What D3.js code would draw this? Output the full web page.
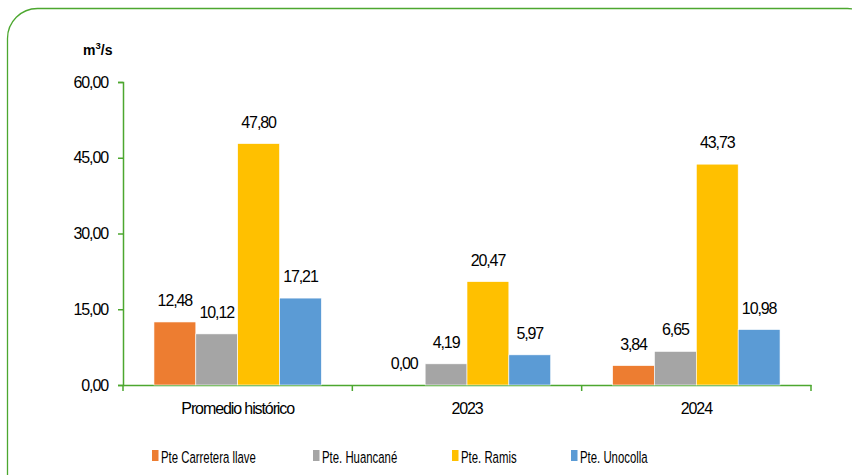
<!DOCTYPE html>
<html><head><meta charset="utf-8">
<script src="https://cdn.jsdelivr.net/npm/d3@7"></script>
<style>body{margin:0;background:#fff}svg{display:block}text{font-family:"Liberation Sans",Arial,sans-serif;fill:#000}</style>
</head><body><svg id="c" width="852" height="475"></svg>
<script>
const categories = ["Promedio histórico", "2023", "2024"];
const seriesNames = ["Pte Carretera llave", "Pte. Huancané", "Pte. Ramis", "Pte. Unocolla"];
const carretera = [12.48, 0.00, 3.84];
const huancane = [10.12, 4.19, 6.65];
const ramis = [47.80, 20.47, 43.73];
const unocolla = [17.21, 5.97, 10.98];
const yTicks = [0, 15, 30, 45, 60];
const colors = ["#ED7D31", "#A5A5A5", "#FFC000", "#5B9BD5"];
const values = [carretera, huancane, ramis, unocolla];

const svg = d3.select("#c");
const green = "#4CA72F";
const FONT = '"Liberation Sans",Arial,sans-serif';
const LS = "-1.1";
const fmt = v => v.toFixed(2).replace(".", ",");

// border
svg.append("rect").attr("x", 7.5).attr("y", 8.5).attr("width", 870).attr("height", 520)
  .attr("rx", 30).attr("ry", 30).attr("fill", "none").attr("stroke", green).attr("stroke-width", 1.3);

const x0 = d3.scaleBand().domain(categories).range([123, 811]).paddingInner(0).paddingOuter(0);
const x1 = d3.scaleBand().domain(seriesNames).range([0, x0.bandwidth()]).paddingInner(0).paddingOuter(0.74);
const y = d3.scaleLinear().domain([0, 60]).range([385, 82]);

// y axis
const ya = svg.append("g").attr("transform", "translate(123,0)")
  .call(d3.axisLeft(y).tickValues(yTicks).tickFormat(fmt).tickSize(5).tickPadding(10));
ya.select(".domain").attr("stroke", green).attr("stroke-width", 1.5);
ya.selectAll(".tick line").attr("stroke", green).attr("stroke-width", 1.5);
ya.selectAll("text").attr("font-size", 16).attr("font-family", FONT).attr("letter-spacing", LS).attr("fill", "#000");

// x axis
const xa = svg.append("g").attr("transform", "translate(0,385)")
  .call(d3.axisBottom(x0).tickSize(0).tickPadding(18));
xa.select(".domain").attr("stroke", green).attr("stroke-width", 1.5);
xa.selectAll("text").attr("font-size", 16).attr("font-family", FONT).attr("letter-spacing", LS).attr("fill", "#000");
// category boundary ticks
const bounds = [x0(categories[0])].concat(categories.map(c => x0(c) + x0.bandwidth()));
svg.append("g").selectAll("line").data(bounds).join("line")
  .attr("x1", d => d).attr("x2", d => d).attr("y1", 385).attr("y2", 391)
  .attr("stroke", green).attr("stroke-width", 1.5);

// bars
const g = svg.append("g");
seriesNames.forEach((s, si) => {
  categories.forEach((c, ci) => {
    const v = values[si][ci];
    const bx = x0(c) + x1(s);
    if (v > 0) {
      g.append("rect").attr("x", bx).attr("y", y(v)).attr("width", x1.bandwidth()).attr("height", y(0) - y(v))
        .attr("fill", colors[si]).attr("stroke", "#fff").attr("stroke-width", 0.6);
    }
    g.append("text").attr("x", bx + x1.bandwidth() / 2).attr("y", y(v) - 16)
      .attr("text-anchor", "middle").attr("font-size", 16).attr("letter-spacing", LS).text(fmt(v));
  });
});

// unit label
svg.append("text").attr("x", 83).attr("y", 55).attr("font-size", 14).attr("font-weight", "bold")
  .html('m<tspan dy="-6" font-size="9.5">3</tspan><tspan dy="6">/s</tspan>');

// legend
const legX = [152, 313, 452, 571];
const leg = svg.append("g");
seriesNames.forEach((s, i) => {
  leg.append("rect").attr("x", legX[i]).attr("y", 450).attr("width", 6.5).attr("height", 11).attr("fill", colors[i]);
  leg.append("text").attr("transform", `translate(${legX[i] + 9},462.5) scale(0.69,1)`)
    .attr("font-size", 16.5).text(s);
});
</script></body></html>
